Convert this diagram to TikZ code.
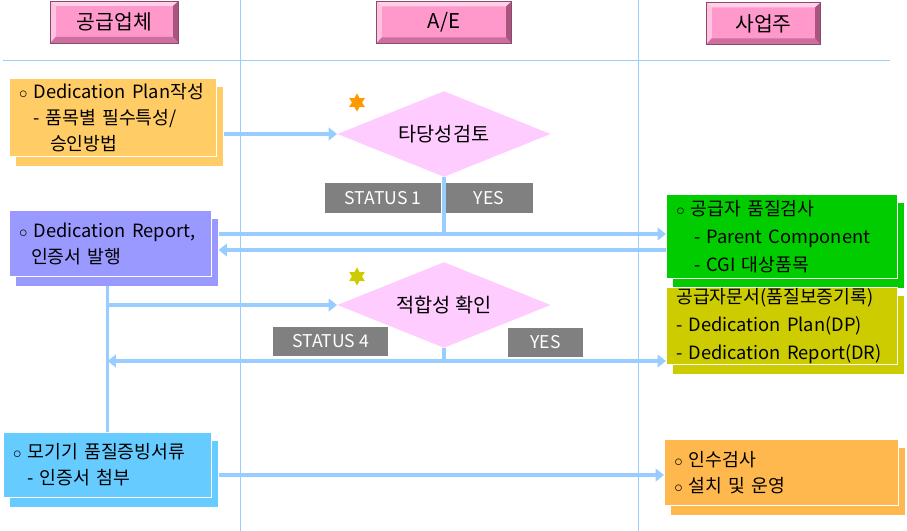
\documentclass[tikz,border=0pt]{standalone}
\usepackage{fontspec}
\setmainfont{Noto Sans CJK KR}
\usepackage{tikz}
\usetikzlibrary{arrows.meta,shapes.geometric,shadows}
\definecolor{linkblue}{HTML}{99CCFF}
\definecolor{headface}{HTML}{FF99CC}
\definecolor{headlight}{HTML}{FFD1E8}
\definecolor{headside}{HTML}{FFC2E0}
\definecolor{headdark}{HTML}{CC6E9E}
\definecolor{headdarker}{HTML}{A8557F}
\definecolor{headedge}{HTML}{8C4A6B}
\definecolor{diafill}{HTML}{FFCCFF}
\definecolor{planfill}{HTML}{FFCC66}
\definecolor{reportfill}{HTML}{9999FF}
\definecolor{inspfill}{HTML}{00CC00}
\definecolor{docfill}{HTML}{CCCC00}
\definecolor{mfrfill}{HTML}{66CCFF}
\definecolor{acceptfill}{HTML}{FFB84D}
\definecolor{tagfill}{HTML}{808080}
\definecolor{starorange}{HTML}{FF9900}
\definecolor{staryellow}{HTML}{CCCC00}
\newcommand{\bevel}{%
\fill[headlight] (path picture bounding box.north west) -- (path picture bounding box.north east) -- ([shift={(-4pt,-3.5pt)}]path picture bounding box.north east) -- ([shift={(4pt,-3.5pt)}]path picture bounding box.north west) -- cycle;
\fill[headside] (path picture bounding box.north west) -- ([shift={(4pt,-3.5pt)}]path picture bounding box.north west) -- ([shift={(4pt,4.5pt)}]path picture bounding box.south west) -- (path picture bounding box.south west) -- cycle;
\fill[headdark] (path picture bounding box.south west) -- ([shift={(4pt,4.5pt)}]path picture bounding box.south west) -- ([shift={(-4pt,4.5pt)}]path picture bounding box.south east) -- (path picture bounding box.south east) -- cycle;
\fill[headdarker] (path picture bounding box.south east) -- ([shift={(-4pt,4.5pt)}]path picture bounding box.south east) -- ([shift={(-4pt,-3.5pt)}]path picture bounding box.north east) -- (path picture bounding box.north east) -- cycle;}

\begin{document}
\begin{tikzpicture}[x=0.025cm,y=-0.025cm,
  >={Triangle[length=6pt,width=9pt]},
  sepline/.style={draw=linkblue,line width=0.7pt},
  flowline/.style={draw=linkblue,line width=2.4pt},
  headbox/.style={draw=headedge,line width=0.5pt,fill=headface,inner sep=0pt,minimum height=30pt,font=\fontsize{14.5}{16}\selectfont,path picture={\bevel}},
  cardbox/.style={fill=#1,draw=white,line width=0.6pt,drop shadow={fill=#1,opacity=1,shadow xshift=4.6pt,shadow yshift=-6.4pt},align=left,inner xsep=7pt,inner ysep=0pt,font=\fontsize{13}{18.5}\selectfont},
  decide/.style={diamond,fill=diafill,shape aspect=2.5,minimum width=151.7pt,minimum height=61pt,inner sep=0pt,font=\fontsize{14}{16}\selectfont},
  tagbox/.style={fill=tagfill,text=white,inner sep=0pt,minimum height=21.3pt,font=\fontsize{12.5}{14}\selectfont},
  starmark/.style={star,star points=6,star point ratio=1.8,minimum size=13pt,inner sep=0pt,fill=#1}]
\useasboundingbox (0,0) rectangle (907,531);
% swimlanes
\draw[sepline] (240,0) -- (240,531) (638,0) -- (638,531) (3,60) -- (890,60);
\node[headbox,minimum width=91.4pt] (supplier) at (114.5,22) {공급업체};
\node[headbox,minimum width=96.4pt] (ae) at (444,22.5) {A/E};
\node[headbox,minimum width=81.5pt] (owner) at (763.5,23.5) {사업주};
% supplier side
\node[cardbox=planfill,text width=133.4pt,minimum height=56pt] (plan) at (113,117.5)
  {$\circ$ Dedication~Plan작성\\\hspace*{10pt}- 품목별 필수특성/\\\hspace*{22pt}승인방법};
\node[cardbox=reportfill,text width=129.9pt,minimum height=47.5pt] (report) at (110.5,243.5)
  {$\circ$ Dedication~Report,\\\hspace*{8.5pt}인증서 발행};
\node[cardbox=mfrfill,text width=134.1pt,minimum height=46.8pt] (mfr) at (107.5,465)
  {$\circ$ 모기기 품질증빙서류\\\hspace*{10pt}- 인증서 첨부};
% A/E review
\node[decide] (review) at (444,134) {타당성검토};
\node[decide] (suit) at (444,305) {적합성 확인};
\node[starmark=starorange] (star1) at (357,102.5) {};
\node[starmark=staryellow] (star2) at (357,276.5) {};
\node[tagbox,minimum width=82.2pt] (st1) at (383,198) {STATUS 1};
\node[tagbox,minimum width=62.4pt] (yes1) at (489,198) {YES};
\node[tagbox,minimum width=81.5pt] (st4) at (330.5,341.5) {STATUS 4};
\node[tagbox,minimum width=53.1pt] (yes4) at (545.5,342.5) {YES};
% owner side
\node[cardbox=inspfill,text width=150.4pt,minimum height=60.2pt,font=\fontsize{13}{20}\selectfont] (supinsp) at (782,236.5)
  {$\circ$ 공급자 품질검사\\\hspace*{12.8pt}- Parent Component\\\hspace*{12.8pt}- CGI 대상품목};
\node[cardbox=docfill,text width=150.4pt,minimum height=55.3pt,font=\fontsize{13}{20}\selectfont] (dpdr) at (782,326)
  {공급자문서(품질보증기록)\\- Dedication Plan(DP)\\- Dedication Report(DR)};
\node[cardbox=acceptfill,text width=152.5pt,minimum height=47.5pt] (accept) at (781.5,472.5)
  {$\circ$ 인수검사\\$\circ$ 설치 및 운영};
% flow levels
\coordinate (lvlA) at (0,234);
\coordinate (lvlB) at (0,250);
\coordinate (lvlC) at (0,361);
\coordinate (lvlD) at (0,475);
\draw[flowline,->,shorten <=4.6pt] (plan.east |- review.west) -- (review.west);
\draw[flowline] (review.south) -- (review.south |- lvlA);
\draw[flowline,->,shorten <=4.6pt] (report.east |- lvlA) -- (supinsp.west |- lvlA);
\draw[flowline,->,shorten >=4.6pt] (supinsp.west |- lvlB) -- (report.east |- lvlB);
\draw[flowline,shorten <=6.4pt] (report.south -| mfr.north) -- (mfr.north);
\draw[flowline,->] (mfr.north |- suit.west) -- (suit.west);
\draw[flowline] (suit.south) -- (suit.south |- lvlC);
\draw[flowline,<->] (mfr.north |- lvlC) -- (dpdr.west |- lvlC);
\draw[flowline,->,shorten <=4.6pt] (mfr.east |- lvlD) -- (accept.west |- lvlD);
\end{tikzpicture}
\end{document}
